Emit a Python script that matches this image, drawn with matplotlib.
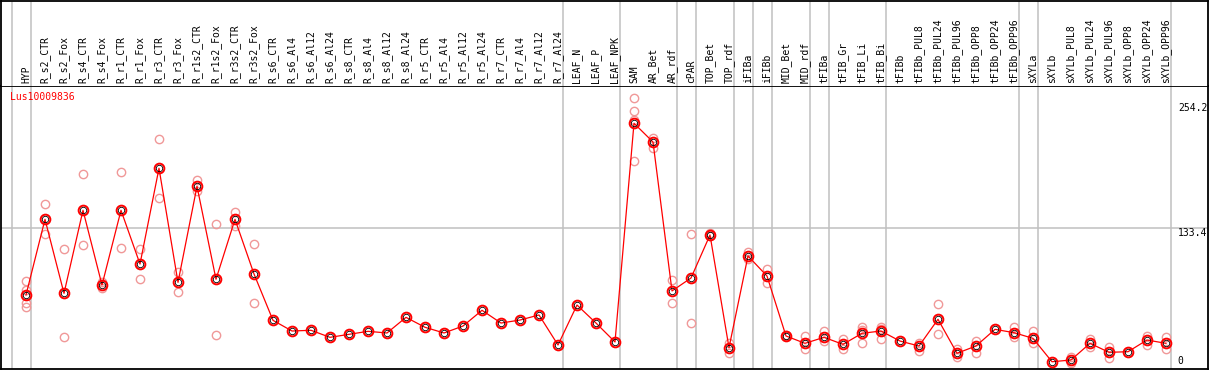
import matplotlib.pyplot as plt
from matplotlib.transforms import blended_transform_factory
import numpy as np

samples = ['HYP', 'R_s2_CTR', 'R_s2_Fox', 'R_s4_CTR', 'R_s4_Fox', 'R_r1_CTR', 'R_r1_Fox',
           'R_r3_CTR', 'R_r3_Fox', 'R_r1s2_CTR', 'R_r1s2_Fox', 'R_r3s2_CTR', 'R_r3s2_Fox',
           'R_s6_CTR', 'R_s6_Al4', 'R_s6_Al12', 'R_s6_Al24', 'R_s8_CTR', 'R_s8_Al4',
           'R_s8_Al12', 'R_s8_Al24', 'R_r5_CTR', 'R_r5_Al4', 'R_r5_Al12', 'R_r5_Al24',
           'R_r7_CTR', 'R_r7_Al4', 'R_r7_Al12', 'R_r7_Al24', 'LEAF_N', 'LEAF_P', 'LEAF_NPK',
           'SAM', 'AR_Bet', 'AR_rdf', 'cPAR', 'TOP_Bet', 'TOP_rdf', 'iFIBa', 'iFIBb',
           'MID_Bet', 'MID_rdf', 'tFIBa', 'tFIB_Gr', 'tFIB_Li', 'tFIB_Bi', 'tFIBb',
           'tFIBb_PUL8', 'tFIBb_PUL24', 'tFIBb_PUL96', 'tFIBb_OPP8', 'tFIBb_OPP24',
           'tFIBb_OPP96', 'sXYLa', 'sXYLb', 'sXYLb_PUL8', 'sXYLb_PUL24', 'sXYLb_PUL96',
           'sXYLb_OPP8', 'sXYLb_OPP24', 'sXYLb_OPP96']

# sizes of the sample groups separated by grey lines
group_sizes = [1, 28, 3, 3, 1, 2, 1, 1, 2, 1, 3, 7, 1, 7]

means = [69.0, 142.1, 70.6, 150.8, 78.6, 150.8, 98.9, 191.4, 81.2, 174.0, 84.2, 142.1, 89.3,
         44.5, 34.2, 34.9, 28.1, 31.0, 33.9, 32.3, 47.4, 37.8, 32.3, 39.0, 54.2, 41.9, 44.8,
         49.7, 20.7, 59.3, 41.9, 23.6,
         234.9, 216.8, 72.9, 85.4, 127.0, 18.1, 106.7, 87.3, 29.4, 22.3, 28.1, 21.3, 32.0,
         34.2, 24.5, 19.7, 45.5, 12.7, 19.7, 35.8, 32.6, 27.1, 4.5, 6.2, 22.3, 13.6, 14.2,
         25.5, 22.3]

replicates = [[82.5, 73.8, 61.3, 57.4], [156.6, 127.6], [113.1, 28.7], [185.9, 117.0],
              [81.2, 75.4], [187.5, 114.4], [113.1, 84.2], [219.4, 162.4], [90.9, 72.2],
              [179.8, 169.5], [137.3, 30.0], [148.9, 135.7], [118.0, 61.0],
              [], [], [], [], [], [], [], [], [], [], [], [], [], [], [], [], [], [], [],
              [259.3, 246.5, 238.1, 198.2], [221.0, 211.3], [83.5, 61.0], [127.9, 41.6],
              [129.2, 126.0], [22.3, 12.6], [110.8, 103.5], [94.1, 80.3], [30.0, 29.0],
              [29.4, 16.5], [34.5, 24.5], [26.8, 16.5], [38.4, 35.2, 22.3], [38.4, 36.5, 26.2],
              [], [22.9, 15.2], [60.0, 31.0], [16.5, 9.4], [24.8, 12.7], [], [38.4, 28.7],
              [34.2, 22.3], [], [9.4, 3.6], [26.2, 18.4], [19.0, 8.4], [], [29.7, 20.7],
              [28.1, 16.5]]

y_ticks = [254.2, 133.4, 0]
gene = 'Lus10009836'

W, H = 1209, 370
fig = plt.figure(figsize=(W / 100, H / 100), dpi=100)
mono = 'DejaVu Sans Mono'

x = np.arange(len(samples))
xlim = (-25 / 19, 60 + 42 / 19)

ax = fig.add_axes([1 / W, 1 / H, 1207 / W, 283 / H])
head = fig.add_axes([1 / W, 284 / H, 1207 / W, 85.5 / H])
for a in (ax, head):
    a.set_xlim(*xlim)
    a.set_xticks([])
    a.set_yticks([])
    for s in a.spines.values():
        s.set_linewidth(1.3)
        s.set_color('black')
head.spines['bottom'].set_visible(False)
head.set_ylim(0, 1)
ax.set_ylim(-2.5, 270.9)

# group separators
bounds = np.concatenate([[-1], np.cumsum(group_sizes) - 1]) + 0.25
for b in bounds:
    for a in (ax, head):
        a.axvline(b, color='#c0c0c0', lw=1.1, zorder=0)
ax.axhline(y_ticks[1], color='#c0c0c0', lw=1.1, zorder=0)

for i, name in enumerate(samples):
    head.text(i, 0.04, name, rotation=90, ha='center', va='bottom',
              fontsize=7, family=mono)

# replicate points
for i, reps in enumerate(replicates):
    ax.plot([i] * len(reps), reps, 'o', ms=6, mfc='none', mec='#f09898', mew=1.0, zorder=2)

ax.plot(x, means, '-', color='red', lw=0.9, zorder=3)
ax.plot(x, means, 'o', ms=7, mfc='none', mec='red', mew=1.4, zorder=4)
ax.plot(x, means, 'o', ms=4.6, mfc='none', mec='black', mew=0.6, zorder=5)

tr = blended_transform_factory(ax.transAxes, ax.transData)
ax.text(0.975, y_ticks[0], '254.2', transform=tr, ha='left', va='top', fontsize=7, family=mono)
ax.text(0.975, y_ticks[1], '133.4', transform=tr, ha='left', va='top', fontsize=7, family=mono)
ax.text(0.975, y_ticks[2], '0', transform=tr, ha='left', va='bottom', fontsize=7, family=mono)

ax.text(0.0075, 0.961, gene, transform=ax.transAxes, color='red', ha='left', va='center',
        fontsize=7, family=mono)

fig.savefig('out.png', dpi=100)
